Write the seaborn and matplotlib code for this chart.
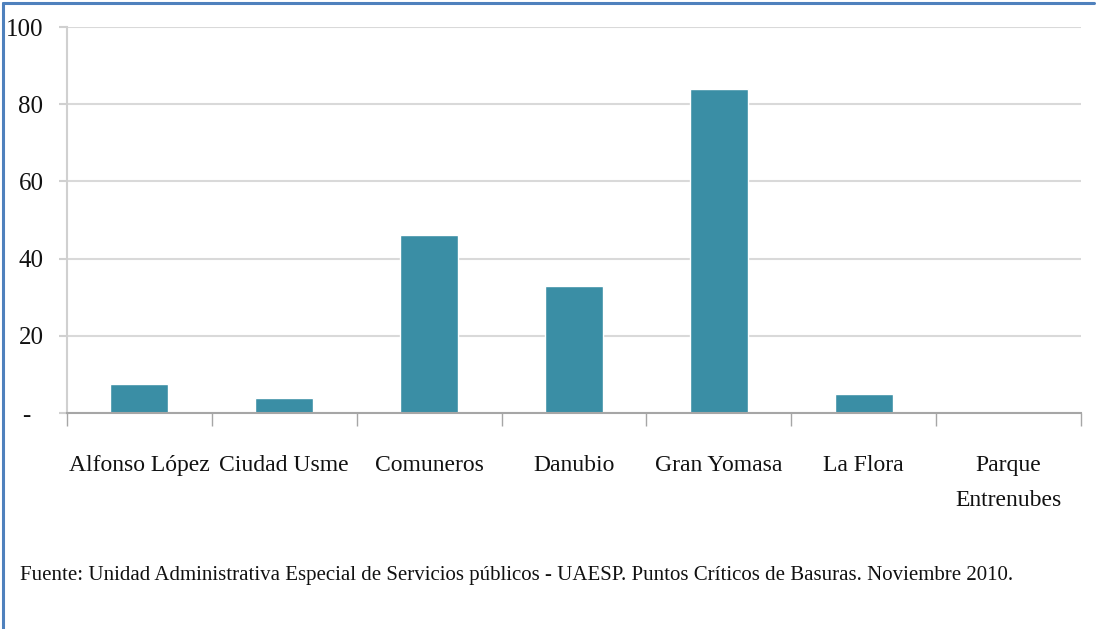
import matplotlib
matplotlib.use("Agg")
import matplotlib.pyplot as plt
import seaborn as sns
import pandas as pd
from matplotlib.lines import Line2D

barrios = ["Alfonso López", "Ciudad Usme", "Comuneros", "Danubio",
           "Gran Yomasa", "La Flora", "Parque\nEntrenubes"]
puntos = [7.5, 4, 46, 33, 84, 5, 0]
y_ticks = [0, 20, 40, 60, 80, 100]
y_labels = ["-  ", "20", "40", "60", "80", "100"]
fuente = ("Fuente: Unidad Administrativa Especial de Servicios públicos - UAESP. "
          "Puntos Críticos de Basuras. Noviembre 2010.")

sns.set_style("white")
plt.rcParams["font.family"] = ["Liberation Serif", "DejaVu Serif"]
plt.rcParams["text.color"] = "#111111"
plt.rcParams["xtick.labelcolor"] = "#111111"
plt.rcParams["ytick.labelcolor"] = "#111111"

df = pd.DataFrame({"barrio": barrios, "puntos": puntos})

fig = plt.figure(figsize=(10.99, 6.29), dpi=100)
ax = fig.add_axes([0.061, 0.3434, 0.9226, 0.6136])

sns.barplot(data=df, x="barrio", y="puntos", color="#3a8ea5", width=0.4,
            saturation=1, ax=ax)

ax.set_ylim(0, 100)
ax.set_xlim(-0.5, len(barrios) - 0.5)
ax.set_yticks(y_ticks, y_labels)
ax.set_xlabel("")
ax.set_ylabel("")
ax.yaxis.grid(True, color="#d9d9d9", linewidth=1.5)
ax.set_axisbelow(True)

for side in ["top", "right"]:
    ax.spines[side].set_visible(False)
ax.spines["left"].set_color("#d0d0d0")
ax.spines["left"].set_linewidth(1.5)
ax.spines["bottom"].set_color("#a6a6a6")
ax.spines["bottom"].set_linewidth(1.5)

ax.set_xticks([i - 0.5 for i in range(len(barrios) + 1)], minor=True)
ax.tick_params(axis="x", which="major", length=0, pad=30, labelsize=17)
ax.tick_params(axis="x", which="minor", length=9, width=1, color="#a6a6a6",
               direction="out", bottom=True)
ax.tick_params(axis="y", length=6, width=1.5, color="#d0d0d0", left=True,
               pad=11, labelsize=18)
for lab in ax.get_xticklabels():
    lab.set_linespacing(1.9)
    lab.set_verticalalignment("top")

fig.text(0.018, 0.085, fuente, fontsize=15, ha="left", va="center")

# marco azul del recuadro original
fig.add_artist(Line2D([0.003, 0.003], [0, 0.996], transform=fig.transFigure,
                      color="#4f81bd", linewidth=2.2))
fig.add_artist(Line2D([0.003, 0.995], [0.996, 0.996], transform=fig.transFigure,
                      color="#4f81bd", linewidth=2.2))

fig.savefig("out.png", dpi=100)
